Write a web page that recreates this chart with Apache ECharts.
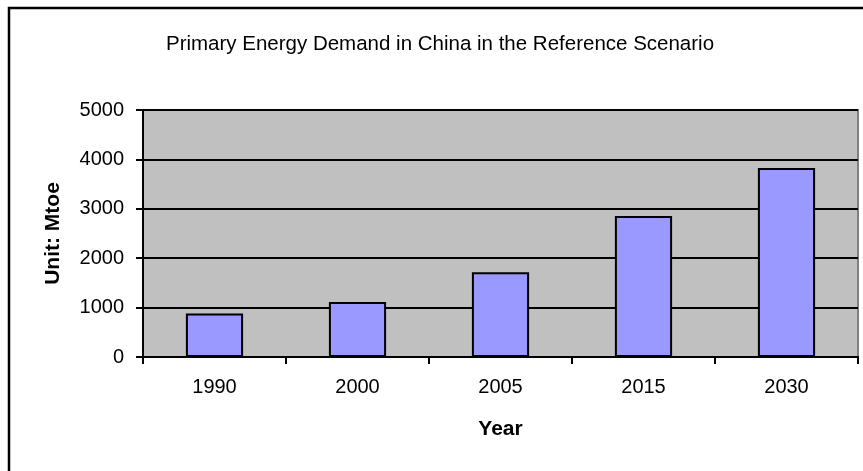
<!DOCTYPE html>
<html>
<head>
<meta charset="utf-8">
<script src="https://cdn.jsdelivr.net/npm/echarts@6/dist/echarts.min.js"></script>
<style>
  html, body { margin: 0; padding: 0; background: #fff; }
  #chart { width: 863px; height: 471px; }
</style>
</head>
<body>
<div id="chart"></div>
<script>
const years = ['1990', '2000', '2005', '2015', '2030']
const demand = [880, 1115, 1717, 2852, 3825]
const yTicks = [0, 1000, 2000, 3000, 4000, 5000]

const FONT = '"Liberation Sans", Arial, sans-serif'
const chart = echarts.init(document.getElementById('chart'))

chart.setOption({
  animation: false,
  backgroundColor: '#fff',
  textStyle: { fontFamily: FONT },
  title: {
    text: 'Primary Energy Demand in China in the Reference Scenario',
    left: 435,
    top: 29,
    textAlign: 'center',
    textStyle: { fontFamily: FONT, fontSize: 20.5, fontWeight: 'normal', color: '#000' }
  },
  // outer chart frame (only top/left edges show inside the picture)
  graphic: [{
    type: 'rect',
    shape: { x: 9, y: 8, width: 870, height: 480 },
    style: { fill: 'none', stroke: '#000', lineWidth: 2.5 },
    silent: true, z: 100
  }],
  grid: {
    left: 143, top: 110, right: 5, bottom: 114,
    show: true,
    backgroundColor: '#C0C0C0',
    borderColor: '#808080',
    borderWidth: 2
  },
  xAxis: {
    type: 'category',
    data: years,
    name: 'Year',
    nameLocation: 'middle',
    nameGap: 62,
    nameTextStyle: { fontFamily: FONT, fontSize: 21, fontWeight: 'bold', color: '#000' },
    axisLine: { lineStyle: { color: '#000', width: 2 } },
    axisTick: { show: true, length: 7, lineStyle: { color: '#000', width: 2 } },
    axisLabel: { fontFamily: FONT, fontSize: 20, color: '#000', margin: 20 }
  },
  yAxis: {
    type: 'value',
    min: yTicks[0],
    max: yTicks[yTicks.length - 1],
    interval: 1000,
    name: 'Unit: Mtoe',
    nameLocation: 'middle',
    nameGap: 79,
    nameTextStyle: { fontFamily: FONT, fontSize: 21, fontWeight: 'bold', color: '#000' },
    axisLine: { show: true, lineStyle: { color: '#000', width: 2 } },
    axisTick: { show: true, length: 7, lineStyle: { color: '#000', width: 2 } },
    axisLabel: { fontFamily: FONT, fontSize: 20, color: '#000', margin: 19, formatter: v => String(v) },
    splitLine: { lineStyle: { color: '#000', width: 2 } }
  },
  series: [{
    type: 'bar',
    data: demand,
    barCategoryGap: '60%',
    itemStyle: { color: '#9999FF', borderColor: '#000', borderWidth: 2 }
  }]
})
</script>
</body>
</html>
